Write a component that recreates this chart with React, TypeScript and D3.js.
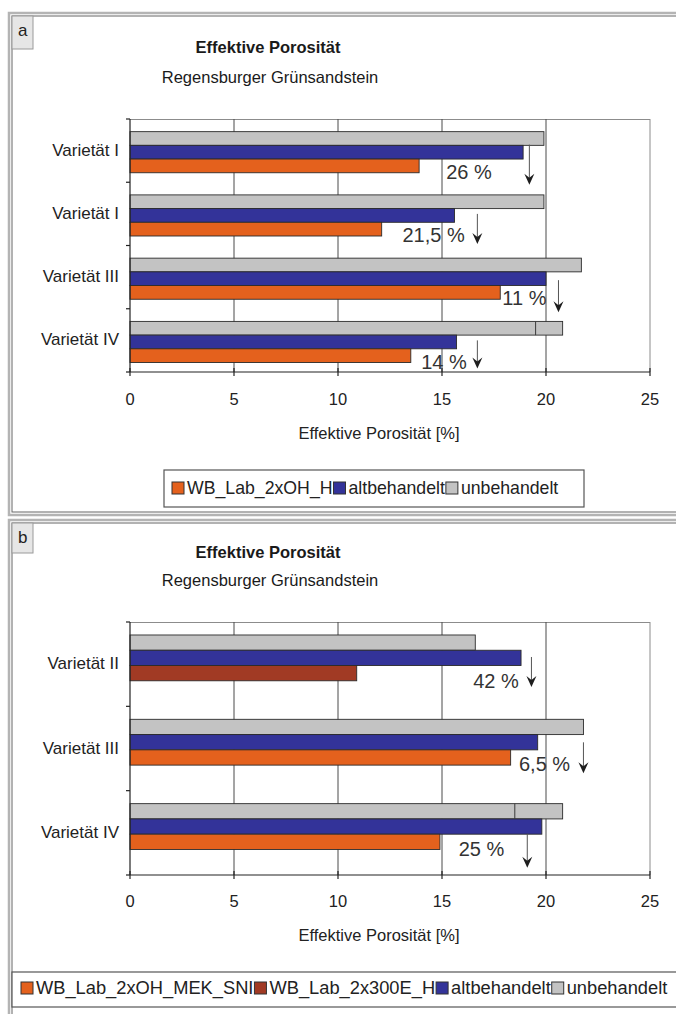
import React from "react";
import * as d3 from "d3";

const W = 676;
const H = 1014;
const FONT = "'Liberation Sans', Arial, Helvetica, sans-serif";

const COLORS = {
  orange: "#e4611d",
  red: "#a13a24",
  blue: "#333399",
  gray: "#c3c3c3",
};

const xTicks = [0, 5, 10, 15, 20, 25];
const axisTitle = "Effektive Porosität [%]";
const chartTitle = "Effektive Porosität";
const chartSubtitle = "Regensburger Grünsandstein";

// Panel a – porosity values in %
const categoriesA = ["Varietät I", "Varietät I", "Varietät III", "Varietät IV"];
const unbehandeltA = [19.9, 19.9, 21.7, 20.8];
const altbehandeltA = [18.9, 15.6, 20.0, 15.7];
const wbLab2xOHA = [13.9, 12.1, 17.8, 13.5];
const unbehandeltSplitA = [null, null, null, 19.5];
const reductionLabelsA = ["26 %", "21,5 %", "11 %", "14 %"];
const reductionArrowA = [19.2, 16.7, 20.6, 16.7];
const reductionLabelAtA = [15.2, 13.1, 17.9, 14.0];

// Panel b – porosity values in %
const categoriesB = ["Varietät II", "Varietät III", "Varietät IV"];
const unbehandeltB = [16.6, 21.8, 20.8];
const altbehandeltB = [18.8, 19.6, 19.8];
const wbLab2x300EB = [10.9, null, null];
const wbLab2xOHMEKB = [null, 18.3, 14.9];
const unbehandeltSplitB = [null, null, 18.5];
const reductionLabelsB = ["42 %", "6,5 %", "25 %"];
const reductionArrowB = [19.3, 21.8, 19.1];
const reductionLabelAtB = [16.5, 18.7, 15.8];

type Series = { name: string; values: (number | null)[]; color: string; slot: number };

const panelA = {
  letter: "a",
  frame: { x: 8, y: 12, w: 690, h: 502 },
  letterBox: { x: 12, y: 16, w: 21, h: 33 },
  titleY: 53,
  subtitleY: 83,
  plot: { left: 130, right: 650, top: 119, bottom: 372 },
  tickLabelY: 405,
  axisTitleY: 439,
  categories: categoriesA,
  series: [
    { name: "unbehandelt", values: unbehandeltA, color: COLORS.gray, slot: 0 },
    { name: "altbehandelt", values: altbehandeltA, color: COLORS.blue, slot: 1 },
    { name: "WB_Lab_2xOH_H", values: wbLab2xOHA, color: COLORS.orange, slot: 2 },
  ] as Series[],
  split: unbehandeltSplitA,
  groupOffset: 0.2,
  barFrac: 0.2166,
  legendItems: [
    { name: "WB_Lab_2xOH_H", color: COLORS.orange },
    { name: "altbehandelt", color: COLORS.blue },
    { name: "unbehandelt", color: COLORS.gray },
  ],
  legendSize: 17.7,
  legendBox: { x: 164, y: 470, w: 420, h: 37 },
  legendStart: 172,
  legendTextY: 494,
  labels: reductionLabelsA,
  arrows: reductionArrowA,
  labelAt: reductionLabelAtA,
  arrowSpan: [[13, 53], [19, 49], [22, 54], [19, 47]],
  labelDy: [40, 40, 40, 41],
};

const panelB = {
  letter: "b",
  frame: { x: 8, y: 519, w: 690, h: 520 },
  letterBox: { x: 12, y: 523, w: 21, h: 30 },
  titleY: 558,
  subtitleY: 586,
  plot: { left: 130, right: 650, top: 622, bottom: 875 },
  tickLabelY: 907,
  axisTitleY: 941,
  categories: categoriesB,
  series: [
    { name: "unbehandelt", values: unbehandeltB, color: COLORS.gray, slot: 0 },
    { name: "altbehandelt", values: altbehandeltB, color: COLORS.blue, slot: 1 },
    { name: "WB_Lab_2x300E_H", values: wbLab2x300EB, color: COLORS.red, slot: 2 },
    { name: "WB_Lab_2xOH_MEK_SNI", values: wbLab2xOHMEKB, color: COLORS.orange, slot: 2 },
  ] as Series[],
  split: unbehandeltSplitB,
  groupOffset: 0.154,
  barFrac: 0.181,
  legendItems: [
    { name: "WB_Lab_2xOH_MEK_SNI", color: COLORS.orange },
    { name: "WB_Lab_2x300E_H", color: COLORS.red },
    { name: "altbehandelt", color: COLORS.blue },
    { name: "unbehandelt", color: COLORS.gray },
  ],
  legendSize: 18.3,
  legendBox: { x: 12, y: 972, w: 690, h: 35 },
  legendStart: 21,
  legendTextY: 994,
  labels: reductionLabelsB,
  arrows: reductionArrowB,
  labelAt: reductionLabelAtB,
  arrowSpan: [[22, 52], [23, 54], [30, 64]],
  labelDy: [46, 45, 45],
};

let measureCtx: CanvasRenderingContext2D | null = null;
function textWidth(s: string, size: number) {
  if (!measureCtx) measureCtx = document.createElement("canvas").getContext("2d");
  if (!measureCtx) return s.length * size * 0.55;
  measureCtx.font = `${size}px ${FONT}`;
  return measureCtx.measureText(s).width;
}

function Panel({ p }: { p: typeof panelA }) {
  const { plot } = p;
  const x = d3.scaleLinear().domain([0, 25]).range([plot.left, plot.right]);
  const y = d3
    .scaleBand<number>()
    .domain(d3.range(p.categories.length))
    .range([plot.top, plot.bottom]);
  const bw = y.bandwidth();
  const barH = bw * p.barFrac;
  const slot = d3
    .scaleBand<number>()
    .domain([0, 1, 2])
    .range([bw * p.groupOffset, bw * p.groupOffset + barH * 3]);

  const legendSize = p.legendSize;
  let cursor = p.legendStart;
  const legend = p.legendItems.map((it) => {
    const sx = cursor;
    const tx = sx + 15;
    const tw = textWidth(it.name, legendSize);
    cursor = tx + tw + 1;
    return { ...it, sx, tx };
  });

  const boundaries = d3.range(p.categories.length + 1).map((i) =>
    i < p.categories.length ? (y(i) as number) : plot.bottom
  );

  return (
    <g>
      {/* frame */}
      <rect x={p.frame.x + 1} y={p.frame.y + 1} width={p.frame.w} height={p.frame.h} fill="#fff" stroke="#b4b4b4" strokeWidth={2.5} />
      <rect x={p.frame.x + 4} y={p.frame.y + 4} width={p.frame.w} height={p.frame.h - 6} fill="none" stroke="#666" strokeWidth={1} />
      <rect x={p.letterBox.x} y={p.letterBox.y} width={p.letterBox.w} height={p.letterBox.h} fill="#e6e6e6" stroke="#9a9a9a" strokeWidth={1} />
      <text x={p.letterBox.x + 6} y={p.letterBox.y + 20} fontSize={17} fill="#222">{p.letter}</text>

      {/* titles */}
      <text x={268} y={p.titleY} textAnchor="middle" fontSize={16.5} fontWeight="bold" fill="#1a1a1a">{chartTitle}</text>
      <text x={270} y={p.subtitleY} textAnchor="middle" fontSize={16.5} fill="#1a1a1a">{chartSubtitle}</text>

      {/* plot border and grid */}
      <line x1={plot.left} x2={plot.right} y1={plot.top + 0.5} y2={plot.top + 0.5} stroke="#8c8c8c" strokeWidth={1} />
      <line x1={plot.right} x2={plot.right} y1={plot.top} y2={plot.bottom} stroke="#8c8c8c" strokeWidth={1} />
      {xTicks.slice(1, -1).map((t) => (
        <line key={t} x1={x(t)} x2={x(t)} y1={plot.top} y2={plot.bottom} stroke="#4a4a4a" strokeWidth={1} />
      ))}

      {/* bars */}
      {p.series.map((s) =>
        s.values.map((v, i) =>
          v == null ? null : (
            <rect
              key={s.name + i}
              x={x(0)}
              y={(y(i) as number) + (slot(s.slot) as number)}
              width={x(v) - x(0)}
              height={barH}
              fill={s.color}
              stroke="#2b2b2b"
              strokeWidth={0.9}
            />
          )
        )
      )}
      {p.split.map((v, i) =>
        v == null ? null : (
          <line key={"split" + i} x1={x(v)} x2={x(v)} y1={(y(i) as number) + (slot(0) as number)} y2={(y(i) as number) + (slot(0) as number) + barH} stroke="#3a3a3a" strokeWidth={1} />
        )
      )}

      {/* axes */}
      <line x1={plot.left} x2={plot.left} y1={plot.top} y2={plot.bottom} stroke="#222" strokeWidth={1.2} />
      {boundaries.map((b, i) => (
        <line key={"yt" + i} x1={plot.left - 4} x2={plot.left} y1={b} y2={b} stroke="#222" strokeWidth={1.2} />
      ))}
      <line x1={plot.left} x2={plot.right} y1={plot.bottom} y2={plot.bottom} stroke="#222" strokeWidth={1.2} />
      {xTicks.map((t) => (
        <line key={"xt" + t} x1={x(t)} x2={x(t)} y1={plot.bottom - 4} y2={plot.bottom + 4} stroke="#222" strokeWidth={1.2} />
      ))}
      {xTicks.map((t) => (
        <text key={"xl" + t} x={x(t)} y={p.tickLabelY} textAnchor="middle" fontSize={16.5} fill="#222">{t}</text>
      ))}
      {p.categories.map((c, i) => (
        <text key={"cl" + i} x={119} y={(y(i) as number) + bw / 2 + 5} textAnchor="end" fontSize={17} fill="#222">{c}</text>
      ))}
      <text x={379} y={p.axisTitleY} textAnchor="middle" fontSize={16.5} fill="#222">{axisTitle}</text>

      {/* reduction annotations */}
      {p.labels.map((lab, i) => {
        const gt = (y(i) as number) + (slot(0) as number);
        const ax = x(p.arrows[i]);
        const y1 = gt + p.arrowSpan[i][0];
        const y2 = gt + p.arrowSpan[i][1];
        return (
          <g key={"ann" + i}>
            <text x={x(p.labelAt[i])} y={gt + p.labelDy[i] + 7} fontSize={20} fill="#333">{lab}</text>
            <line x1={ax} x2={ax} y1={y1} y2={y2 - 5} stroke="#555" strokeWidth={1} />
            <path d={`M${ax},${y2} L${ax - 5},${y2 - 11} L${ax},${y2 - 7} L${ax + 5},${y2 - 11} Z`} fill="#1e1e1e" />
          </g>
        );
      })}

      {/* legend */}
      <rect x={p.legendBox.x} y={p.legendBox.y} width={p.legendBox.w} height={p.legendBox.h} fill="#fff" stroke="#555" strokeWidth={1.2} />
      {legend.map((it) => (
        <g key={it.name}>
          <rect x={it.sx} y={p.legendTextY - 12} width={12} height={12} fill={it.color} stroke="#333" strokeWidth={1} />
          <text x={it.tx} y={p.legendTextY} fontSize={legendSize} fill="#222">{it.name}</text>
        </g>
      ))}
    </g>
  );
}

export default function App() {
  return (
    <svg
      width={W}
      height={H}
      viewBox={`0 0 ${W} ${H}`}
      style={{ position: "absolute", left: 0, top: 0, background: "#fff" }}
      fontFamily={FONT}
    >
      <rect x={0} y={0} width={W} height={H} fill="#fff" />
      <Panel p={panelA} />
      <Panel p={panelB as unknown as typeof panelA} />
    </svg>
  );
}
